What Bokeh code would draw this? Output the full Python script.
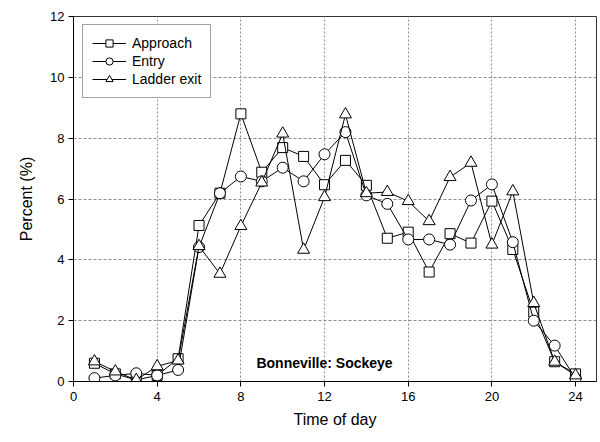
from bokeh.plotting import figure
from bokeh.models import Range1d, FixedTicker, Label, Legend, LegendItem
from bokeh.embed import file_html
from bokeh.resources import INLINE

hours = list(range(1, 25))
approach = [0.60, 0.25, 0.05, 0.20, 0.75, 5.13, 6.19, 8.80, 6.88, 7.69, 7.40, 6.47,
            7.27, 6.45, 4.71, 4.91, 3.60, 4.86, 4.55, 5.93, 4.34, 2.28, 0.65, 0.25]
entry = [0.11, 0.20, 0.27, 0.20, 0.38, 4.42, 6.19, 6.74, 6.58, 7.03, 6.58, 7.47,
         8.20, 6.12, 5.84, 4.67, 4.67, 4.50, 5.95, 6.48, 4.58, 2.00, 1.18, 0.10]
ladder = [0.66, 0.33, 0.05, 0.50, 0.69, 4.45, 3.54, 5.11, 6.54, 8.15, 4.33, 6.06,
          8.78, 6.19, 6.23, 5.93, 5.27, 6.72, 7.19, 4.50, 6.25, 2.58, 0.65, 0.20]
x_ticks = [0, 4, 8, 12, 16, 20, 24]
y_ticks = [0, 2, 4, 6, 8, 10, 12]
series_labels = ["Approach", "Entry", "Ladder exit"]
title_text = "Bonneville: Sockeye"

FONT = "Liberation Sans"

p = figure(width=600, height=442, output_backend="svg", toolbar_location=None,
           x_range=Range1d(0, 25), y_range=Range1d(0, 12),
           min_border_left=73, min_border_right=4, min_border_top=16, min_border_bottom=61)
p.background_fill_color = "white"
p.border_fill_color = "white"
p.outline_line_color = "#333333"
p.outline_line_width = 1

for ax, ticks in ((p.xaxis, x_ticks), (p.yaxis, y_ticks)):
    ax.ticker = FixedTicker(ticks=ticks)
    ax.major_tick_out = 5
    ax.major_tick_in = 0
    ax.minor_tick_out = 0
    ax.minor_tick_in = 0
    ax.axis_line_color = "black"
    ax.major_tick_line_color = "black"
    ax.major_label_text_font = FONT
    ax.major_label_text_font_size = "13px"
    ax.major_label_text_color = "black"
    ax.axis_label_text_font = FONT
    ax.axis_label_text_font_size = "16px"
    ax.axis_label_text_font_style = "normal"
    ax.axis_label_text_color = "black"

p.xaxis.axis_label = "Time of day"
p.yaxis.axis_label = "Percent (%)"
p.xaxis.major_label_standoff = 5
p.yaxis.major_label_standoff = 4
p.xaxis.axis_label_standoff = 7
p.yaxis.axis_label_standoff = 12

p.xgrid.ticker = FixedTicker(ticks=[4, 8, 12, 16, 20, 24])
p.ygrid.ticker = FixedTicker(ticks=[2, 4, 6, 8, 10])
p.xgrid.grid_line_color = "#8c8c8c"
p.xgrid.grid_line_dash = "2 2"
p.ygrid.grid_line_color = "#8c8c8c"
p.ygrid.grid_line_dash = "3 2"

items = []
specs = [(approach, "square", 10), (entry, "circle", 11), (ladder, "triangle", 12)]
for (vals, marker, size), lab in zip(specs, series_labels):
    l = p.line(hours, vals, line_color="black", line_width=1)
    m = p.scatter(hours, vals, marker=marker, size=size, fill_color="white",
                  line_color="black", line_width=1)
    items.append(LegendItem(label=lab, renderers=[l, m]))

legend = Legend(items=items, location=(9, 283))
legend.label_text_font = FONT
legend.label_text_font_size = "14px"
legend.label_text_color = "black"
legend.glyph_width = 34
legend.glyph_height = 18
legend.label_height = 18
legend.spacing = 0
legend.padding = 9
legend.margin = 0
legend.label_standoff = 6
legend.border_line_color = "#444444"
legend.border_line_width = 1
legend.background_fill_alpha = 1
p.add_layout(legend, "center")

p.add_layout(Label(x=12, y=0.62, text=title_text, text_align="center",
                   text_baseline="middle", text_font=FONT, text_font_size="14px",
                   text_font_style="bold", text_color="black"))

open("out.html", "w").write(file_html(p, INLINE))
